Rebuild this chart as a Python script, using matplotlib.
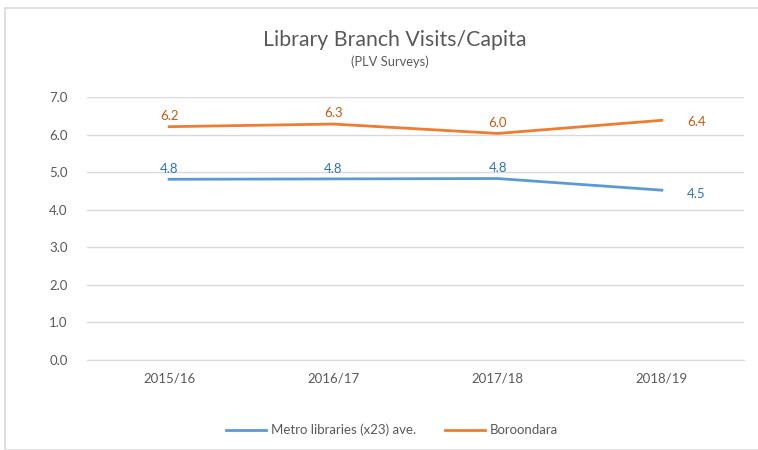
import matplotlib
matplotlib.use("Agg")
import matplotlib.pyplot as plt
from matplotlib.patches import Rectangle

plt.rcParams['font.family'] = ['Lato', 'DejaVu Sans']

categories = ["2015/16", "2016/17", "2017/18", "2018/19"]
metro = [4.81, 4.82, 4.83, 4.52]
boroondara = [6.21, 6.28, 6.03, 6.38]
metro_labels = ["4.8", "4.8", "4.8", "4.5"]
boro_labels = ["6.2", "6.3", "6.0", "6.4"]
yticks = [0.0, 1.0, 2.0, 3.0, 4.0, 5.0, 6.0, 7.0]

W, H = 758, 450
fig = plt.figure(figsize=(W/100, H/100), dpi=100)
fig.patches.append(Rectangle((5/W, 0), 1, 1 - 8/H, transform=fig.transFigure,
                             fill=False, edgecolor='#D9D9D9', linewidth=1.2))

ax = fig.add_axes([87/W, 1 - 360/H, (744-87)/W, (360-97)/H])
x = list(range(len(categories)))
blue = '#5B9BD5'
orange = '#ED7D31'
ax.plot(x, metro, color=blue, linewidth=2, label='Metro libraries (x23) ave.')
ax.plot(x, boroondara, color=orange, linewidth=2, label='Boroondara')

ax.set_xlim(-0.5, len(categories) - 0.5)
ax.set_ylim(0, 7)
ax.set_yticks(yticks)
ax.set_yticklabels([f"{v:.1f}" for v in yticks])
ax.set_xticks(x)
ax.set_xticklabels(categories)
ax.grid(axis='y', color='#D9D9D9', linewidth=1)
ax.set_axisbelow(True)
for s in ['top', 'right', 'left']:
    ax.spines[s].set_visible(False)
ax.spines['bottom'].set_color('#D9D9D9')
ax.tick_params(axis='both', length=0, colors='#595959', labelsize=9.5)
ax.tick_params(axis='y', pad=14)
ax.tick_params(axis='x', pad=9)

lbl_blue = '#2E75B6'
lbl_orange = '#C55A11'
for i, (v, t) in enumerate(zip(metro, metro_labels)):
    if i == len(metro) - 1:
        ax.annotate(t, (i, v), xytext=(18, -3), textcoords='offset points',
                    ha='left', va='center', color=lbl_blue, fontsize=9.5)
    else:
        ax.annotate(t, (i, v), xytext=(0, 3), textcoords='offset points',
                    ha='center', va='bottom', color=lbl_blue, fontsize=9.5)
for i, (v, t) in enumerate(zip(boroondara, boro_labels)):
    if i == len(boroondara) - 1:
        ax.annotate(t, (i, v), xytext=(18, -1), textcoords='offset points',
                    ha='left', va='center', color=lbl_orange, fontsize=9.5)
    else:
        ax.annotate(t, (i, v), xytext=(0, 3.5), textcoords='offset points',
                    ha='center', va='bottom', color=lbl_orange, fontsize=9.5)

fig.text(395/W, 1 - 40/H, "Library Branch Visits/Capita", ha='center', va='center',
         fontsize=15.3, color='#595959')
fig.text(390/W, 1 - 62/H, "(PLV Surveys)", ha='center', va='center',
         fontsize=9.3, color='#595959')

fig.legend(loc='center', bbox_to_anchor=(392/W, 1 - 430/H), ncol=2, frameon=False,
           fontsize=9.5, labelcolor='#595959', handlelength=3, columnspacing=2.2,
           handletextpad=0.4)

fig.savefig('out.png', dpi=100)
